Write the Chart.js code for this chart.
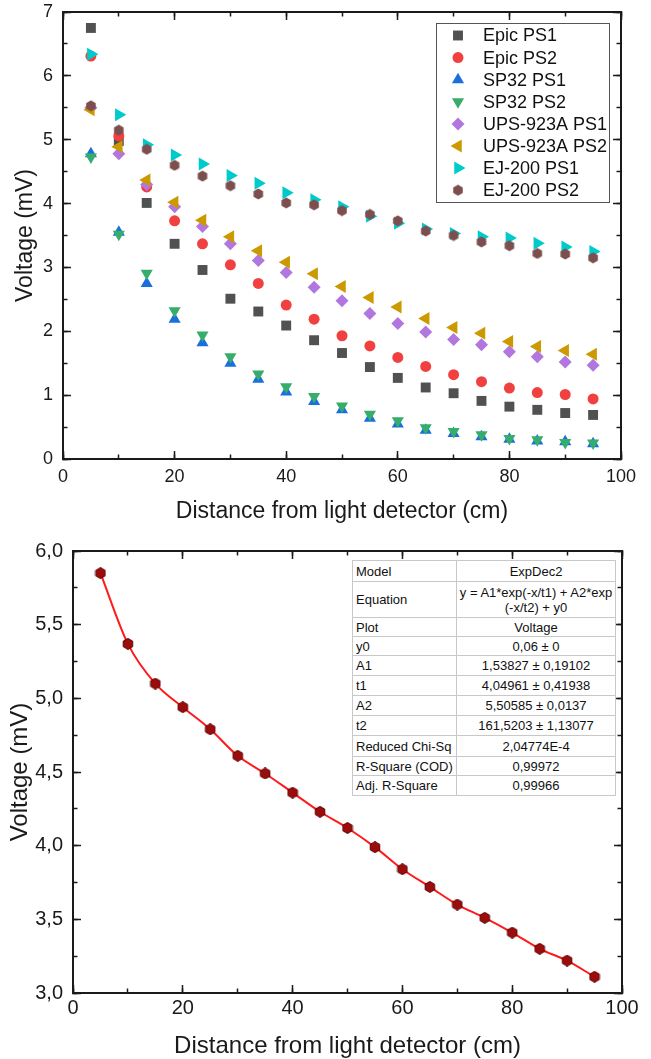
<!DOCTYPE html>
<html>
<head>
<meta charset="utf-8">
<script src="https://cdn.jsdelivr.net/npm/chart.js@4.4.1/dist/chart.umd.min.js"></script>
<style>
  html, body { margin: 0; padding: 0; background: #fff; }
  body { width: 651px; height: 1059px; position: relative; overflow: hidden; font-family: "Liberation Sans", Arial, sans-serif; }
  #top { position: absolute; left: 0; top: 0; }
  #bottom { position: absolute; left: 0; top: 530px; }
  #fitTable { position: absolute; left: 352px; top: 560px; width: 260px; border-collapse: collapse; font-size: 13px; color: #111; background: #fff; border: 1px solid #8a8a8a; }
  #fitTable td { border: 1px solid #c8c8c8; padding: 0 3px; line-height: 15px; white-space: nowrap; }
  #fitTable td.k { width: 93px; }
  #fitTable td.v { text-align: center; }
</style>
</head>
<body>
<canvas id="top" width="651" height="530"></canvas>
<canvas id="bottom" width="651" height="529"></canvas>
<table id="fitTable"><tbody id="fitBody"></tbody></table>

<script>
// ===== Données =====
const distance = [5, 10, 15, 20, 25, 30, 35, 40, 45, 50, 55, 60, 65, 70, 75, 80, 85, 90, 95];

const epicPS1   = [6.75, 4.98, 4.01, 3.37, 2.96, 2.51, 2.31, 2.09, 1.86, 1.66, 1.44, 1.27, 1.12, 1.03, 0.91, 0.82, 0.77, 0.72, 0.69];
const epicPS2   = [6.31, 5.06, 4.26, 3.73, 3.37, 3.04, 2.75, 2.41, 2.19, 1.93, 1.77, 1.59, 1.45, 1.32, 1.21, 1.11, 1.04, 1.01, 0.94];
const sp32PS1   = [4.78, 3.55, 2.75, 2.19, 1.82, 1.50, 1.25, 1.05, 0.90, 0.77, 0.64, 0.55, 0.45, 0.40, 0.35, 0.31, 0.28, 0.27, 0.24];
const sp32PS2   = [4.73, 3.52, 2.91, 2.32, 1.94, 1.60, 1.33, 1.13, 0.98, 0.83, 0.70, 0.60, 0.49, 0.43, 0.38, 0.32, 0.30, 0.26, 0.25];
const ups923PS1 = [5.50, 4.78, 4.30, 3.95, 3.64, 3.37, 3.11, 2.92, 2.69, 2.48, 2.28, 2.12, 1.99, 1.87, 1.79, 1.68, 1.60, 1.52, 1.47];
const ups923PS2 = [5.47, 4.89, 4.37, 4.02, 3.74, 3.48, 3.26, 3.08, 2.90, 2.70, 2.53, 2.38, 2.20, 2.06, 1.97, 1.84, 1.76, 1.70, 1.64];
const ej200PS1  = [6.34, 5.39, 4.92, 4.76, 4.62, 4.44, 4.32, 4.17, 4.06, 3.95, 3.80, 3.69, 3.60, 3.53, 3.48, 3.46, 3.38, 3.32, 3.25];
const ej200PS2  = [5.53, 5.15, 4.85, 4.60, 4.43, 4.28, 4.15, 4.01, 3.98, 3.89, 3.83, 3.73, 3.57, 3.50, 3.40, 3.34, 3.22, 3.21, 3.15];

const seriesLabels = ["Epic PS1", "Epic PS2", "SP32 PS1", "SP32 PS2", "UPS-923A PS1", "UPS-923A PS2", "EJ-200 PS1", "EJ-200 PS2"];

// courbe du bas (EJ-200, ajustement ExpDec2)
const fitVoltage = [5.85, 5.37, 5.10, 4.94, 4.79, 4.61, 4.49, 4.36, 4.23, 4.12, 3.99, 3.84, 3.72, 3.60, 3.51, 3.41, 3.30, 3.22, 3.11];

const fitRowLabels = ["Model", "Equation", "Plot", "y0", "A1", "t1", "A2", "t2", "Reduced Chi-Sq", "R-Square (COD)", "Adj. R-Square"];
const fitRowValues = ["ExpDec2", "y = A1*exp(-x/t1) + A2*exp<br>(-x/t2) + y0", "Voltage", "0,06 ± 0", "1,53827 ± 0,19102",
  "4,04961 ± 0,41938", "5,50585 ± 0,0137", "161,5203 ± 1,13077", "2,04774E-4", "0,99972", "0,99966"];

const topYTicks = { min: 0, max: 7, step: 1 };
const botYTicks = { min: 3, max: 6, step: 0.5 };
const xTicks = { min: 0, max: 100, step: 20 };

// ===== Utilitaires =====
Chart.defaults.font.family = '"Liberation Sans", Arial, sans-serif';
Chart.defaults.color = "#1a1a1a";
const COR_EIXO = "#1a1a1a";

function hexagone(size, fill, stroke) {
  const c = document.createElement("canvas");
  c.width = c.height = size;
  const g = c.getContext("2d");
  const r = size / 2 - 0.5;
  g.beginPath();
  for (let k = 0; k < 6; k++) {
    const ang = Math.PI / 3 * k - Math.PI / 2;
    g.lineTo(size / 2 + r * Math.cos(ang), size / 2 + r * Math.sin(ang));
  }
  g.closePath();
  g.fillStyle = fill;
  g.fill();
  if (stroke) { g.strokeStyle = stroke; g.lineWidth = 1; g.stroke(); }
  return c;
}

function pontos(valores) {
  return distance.map((d, i) => ({ x: d, y: valores[i] }));
}

// échelle auxiliaire : seulement des graduations tournées vers l'intérieur (et le trait d'axe si demandé)
function escalaAux(posicao, cfg, passo, comprimento, comBorda) {
  return {
    type: "linear", display: true, position: posicao, min: cfg.min, max: cfg.max, weight: 0,
    grid: { display: true, drawOnChartArea: false, drawTicks: true, tickLength: -comprimento, tickWidth: 1.5, tickColor: COR_EIXO },
    border: { display: comBorda, color: COR_EIXO, width: 2 },
    ticks: { display: false, stepSize: passo, autoSkip: false },
    afterFit(s) {
      if (s.isHorizontal()) s.height = 0; else s.width = 0;
      s.paddingLeft = 0; s.paddingRight = 0; s.paddingTop = 0; s.paddingBottom = 0;
    }
  };
}

// cadre complet : axes principaux + axes du haut/droite, graduations majeures et mineures
function quadro(yc, o) {
  return {
    x: {
      type: "linear", display: true, position: "bottom", min: xTicks.min, max: xTicks.max, weight: 1,
      grid: { display: true, drawOnChartArea: false, drawTicks: true, tickLength: -8, tickWidth: 1.5, tickColor: COR_EIXO },
      border: { display: true, color: COR_EIXO, width: 2 },
      ticks: { stepSize: xTicks.step, padding: o.padX + 8, font: { size: o.fonte }, maxRotation: 0, autoSkip: false },
      title: { display: true, text: "Distance from light detector (cm)", font: { size: o.titulo, lineHeight: 1 }, padding: { top: 0, bottom: o.padTituloX } },
      afterFit(s) { s.height = o.alturaX; s.paddingLeft = 0; s.paddingRight = 0; }
    },
    y: {
      type: "linear", display: true, position: "left", min: yc.min, max: yc.max, weight: 1,
      grid: { display: true, drawOnChartArea: false, drawTicks: true, tickLength: -8, tickWidth: 1.5, tickColor: COR_EIXO },
      border: { display: true, color: COR_EIXO, width: 2 },
      ticks: { stepSize: yc.step, padding: 18, font: { size: o.fonte }, autoSkip: false, callback: o.fmt },
      title: { display: true, text: "Voltage (mV)", font: { size: o.titulo, lineHeight: 1 }, padding: { top: o.padTituloY, bottom: 0 } },
      afterFit(s) { s.width = o.larguraY; s.paddingTop = 0; s.paddingBottom = 0; }
    },
    xm: escalaAux("bottom", xTicks, xTicks.step / 2, 4.5, false),
    ym: escalaAux("left", yc, yc.step / 2, 4.5, false),
    x2: escalaAux("top", xTicks, xTicks.step, 8, true),
    x2m: escalaAux("top", xTicks, xTicks.step / 2, 4.5, false),
    y2: escalaAux("right", yc, yc.step, 8, true),
    y2m: escalaAux("right", yc, yc.step / 2, 4.5, false)
  };
}

// légende encadrée dans la zone du graphique
const legendeCadre = {
  id: "legendeCadre",
  afterDraw(chart) {
    const ctx = chart.ctx;
    const x0 = 436, y0 = 23, w = 173, h = 179;
    ctx.save();
    ctx.fillStyle = "#fff";
    ctx.fillRect(x0, y0, w, h);
    ctx.strokeStyle = "#555";
    ctx.lineWidth = 1;
    ctx.strokeRect(x0 + 0.5, y0 + 0.5, w, h);
    chart.data.datasets.forEach((ds, i) => {
      const cy = y0 + 12.5 + i * 22.1;
      ctx.fillStyle = ds.backgroundColor;
      ctx.strokeStyle = ds.backgroundColor;
      Chart.helpers.drawPoint(ctx, { pointStyle: ds.pointStyle, rotation: ds.rotation || 0, radius: ds.pointRadius, borderWidth: 0 }, x0 + 22, cy);
      ctx.fillStyle = "#111";
      ctx.font = '18px "Liberation Sans", Arial, sans-serif';
      ctx.textBaseline = "middle";
      ctx.fillText(ds.label, x0 + 47, cy + 1);
    });
    ctx.restore();
  }
};

// ===== Graphique du haut =====
const cores = ["#515151", "#F14040", "#1A6FDF", "#37AD6B", "#B177DE", "#CC9900", "#00CBCC", "#7D4E4E"];
const estilos = [
  { pointStyle: "rect", pointRadius: 7 },
  { pointStyle: "circle", pointRadius: 5.5 },
  { pointStyle: "triangle", pointRadius: 7 },
  { pointStyle: "triangle", pointRadius: 7, rotation: 180 },
  { pointStyle: "rectRot", pointRadius: 6.5 },
  { pointStyle: "triangle", pointRadius: 7.5, rotation: -90 },
  { pointStyle: "triangle", pointRadius: 7.5, rotation: 90 },
  { pointStyle: hexagone(12, "#7D4E4E"), pointRadius: 6 }
];
const valoresTopo = [epicPS1, epicPS2, sp32PS1, sp32PS2, ups923PS1, ups923PS2, ej200PS1, ej200PS2];

const datasetsTopo = valoresTopo.map((v, i) => ({
  label: seriesLabels[i],
  data: pontos(v),
  xAxisID: "x",
  yAxisID: "y",
  backgroundColor: cores[i],
  borderColor: cores[i],
  pointBackgroundColor: cores[i],
  pointBorderWidth: 0,
  pointStyle: estilos[i].pointStyle,
  pointRadius: estilos[i].pointRadius,
  rotation: estilos[i].rotation || 0,
  order: valoresTopo.length - i
}));

new Chart(document.getElementById("top"), {
  type: "scatter",
  data: { datasets: datasetsTopo },
  options: {
    responsive: false,
    animation: false,
    layout: { padding: { left: 0, top: 12, right: 30, bottom: 0 } },
    plugins: { legend: { display: false }, tooltip: { enabled: false } },
    scales: quadro(topYTicks, {
      fonte: 18, titulo: 23, padX: 7, padTituloX: 7, alturaX: 71,
      larguraY: 63, padTituloY: 14, fmt: (v) => String(v)
    })
  },
  plugins: [legendeCadre]
});

// ===== Graphique du bas =====
new Chart(document.getElementById("bottom"), {
  type: "scatter",
  data: {
    datasets: [
      {
        label: "Voltage",
        data: pontos(fitVoltage),
        xAxisID: "x",
        yAxisID: "y",
        pointStyle: hexagone(12, "#9b0d0d", "#5e0000"),
        pointRadius: 6,
        pointBorderWidth: 0,
        order: 1
      },
      {
        label: "ExpDec2",
        data: pontos(fitVoltage),
        xAxisID: "x",
        yAxisID: "y",
        showLine: true,
        cubicInterpolationMode: "monotone",
        borderColor: "#ff1a1a",
        borderWidth: 2,
        pointRadius: 0,
        order: 2
      }
    ]
  },
  options: {
    responsive: false,
    animation: false,
    layout: { padding: { left: 0, top: 21, right: 29, bottom: 0 } },
    plugins: { legend: { display: false }, tooltip: { enabled: false } },
    scales: quadro(botYTicks, {
      fonte: 20, titulo: 24, padX: 3, padTituloX: 1, alturaX: 66,
      larguraY: 73, padTituloY: 8, fmt: (v) => Number(v).toFixed(1).replace(".", ",")
    })
  }
});

// ===== Tableau des paramètres =====
const alturas = [21, 36, 19, 19, 20, 20, 20, 20, 21, 19, 20];
const tbody = document.getElementById("fitBody");
fitRowLabels.forEach((k, i) => {
  const tr = document.createElement("tr");
  tr.style.height = alturas[i] + "px";
  tr.innerHTML = `<td class="k">${k}</td><td class="v">${fitRowValues[i]}</td>`;
  tbody.appendChild(tr);
});
</script>
</body>
</html>
